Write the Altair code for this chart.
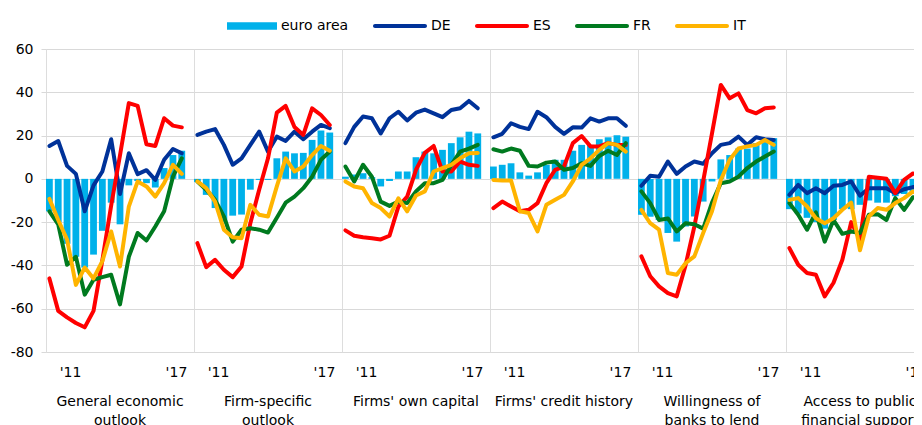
import altair as alt
import pandas as pd

# ---- data -------------------------------------------------------------
SLOTS = list(range(17))            # 16 survey rounds + one empty slot at the end
TICK_VALUES = [2, 14]
TICK_LABELS = ["'11", "'17"]

SERIES = ["euro area", "DE", "ES", "FR", "IT"]
COLORS = ["#00B1EA", "#003299", "#FF0000", "#007A1F", "#FFB400"]

PANELS = ["General economic outlook", "Firm-specific outlook", "Firms' own capital",
          "Firms' credit history", "Willingness of banks to lend",
          "Access to public financial support"]
PANEL_TITLES = [["General economic", "outlook"], ["Firm-specific", "outlook"],
                ["Firms' own capital"], ["Firms' credit history"],
                ["Willingness of", "banks to lend"], ["Access to public", "financial support"]]

euro_area = [
    [-15, -20, -30, -36, -41, -35, -24, -11, -21, -3, -1, -2, -4, 5, 11, 13],
    [-1.5, -7.4, -13.5, -20, -17, -16.5, -5, -0.5, -0.5, 9.5, 12.6, 11.8, 12, 18, 22.3, 21.4],
    [1, 2, 2.6, 0.8, -3.5, -1, 3.4, 3.4, 10, 12.6, 11.8, 13.4, 16.5, 19.2, 21.8, 21],
    [5.7, 6.5, 7.2, 3, 1.5, 3, 6.5, 8.8, 8.8, 13, 15.7, 15.7, 18.3, 19.2, 20.2, 19.5],
    [-16.6, -17.5, -19, -25, -29, -22, -17.4, -10.5, -1.2, 9, 11, 14, 14, 16.5, 17, 18.8],
    [-14, -16, -18, -20, -23, -19, -14, -14, -12, -10, -11, -11, -8, -7, -6, -6],
]
de = [
    [15.2, 17.5, 6, 2.3, -15, -3, 3.4, 18.3, -7, 11.8, 2.2, 4, -0.5, 8.8, 13.8, 11.8],
    [20.3, 21.8, 23, 15.7, 6.5, 9.5, 15.7, 21.8, 12.6, 19.5, 17.5, 21.8, 18.3, 21.8, 24.9, 23.4],
    [16.5, 24, 28.8, 28, 21, 28, 31, 27, 30.6, 32, 30.3, 28.5, 31.8, 32.6, 36, 32.6],
    [19.2, 20.8, 25.7, 24, 23, 31, 28.5, 24, 20.8, 23.8, 23.7, 28, 26.5, 28, 28, 24.5],
    [-3.2, 1.4, 1, 8, 2.3, 5.7, 8, 7, 11.8, 15.7, 16.5, 19.5, 15.7, 19.2, 18.3, 18],
    [-7.4, -2.8, -6.6, -4.3, -6.6, -3.2, -2.8, -1.2, -7.8, -4.3, -4.3, -4.3, -6.6, -4.8, -3.8, -3.2],
]
es = [
    [-46, -61, -64, -66.6, -68.6, -61, -37.6, -12.3, 10.9, 35, 33.7, 16, 15.2, 28, 24.6, 23.8],
    [-29.7, -40.8, -37.4, -42, -45.4, -40.5, -20.5, -5, 9.5, 30.6, 33.7, 24, 20.3, 32.6, 29.5, 24.9],
    [-23.8, -26.3, -27, -27.4, -28, -26.3, -12.8, -8.2, 4.2, 12, 15.2, 3.4, 3.4, 8, 6.5, 6],
    [-13.5, -10.5, -12.8, -15, -14.3, -11.2, -2, 4.2, 5.7, 16.5, 19.8, 15, 15, 16.5, 15.7, 15.7],
    [-35.8, -45, -49.7, -52.8, -54.3, -40, -22, -1, 21, 43.4, 37.2, 39.5, 31.8, 30.3, 32.6, 33],
    [-32, -39.7, -43.5, -44.3, -54.3, -48, -37.4, -20, -28, 1, 0.5, 0, -6.6, -0.5, 2.5, 1.5],
]
fr = [
    [-15, -21, -39.7, -36, -53.5, -46.6, -45.4, -44.3, -58, -36, -25, -28.5, -22, -15, 1, 9.5],
    [-1.2, -5, -9.7, -17.4, -29, -23.5, -22.8, -23.5, -24.8, -18, -11, -8.2, -4.3, 1, 8.8, 12.6],
    [5.7, -1.2, 6.5, 1, -10.5, -12.5, -10.5, -11.2, -5.8, -2, -2, -0.5, 6.5, 12.6, 14, 15.7],
    [13.7, 12.6, 14, 13, 6, 5.7, 7.5, 8, 4.2, 5, 7.2, 6, 10.6, 13, 11, 16.5],
    [-5.8, -11.2, -19, -18.3, -24.3, -20.5, -21, -23, -11, -2, -1.2, 1, 5, 8, 10.3, 12.6],
    [-11.2, -16.6, -23.5, -15.5, -29, -19, -25.4, -24.3, -25, -16.6, -16.3, -19, -8.9, -14.3, -8.5, -8.2],
]
it = [
    [-9.2, -19, -28, -49, -41, -46, -38, -24.3, -40.5, -12.8, -1.2, -3.5, -8.2, -2, 6.5, 2.3],
    [-1.2, -4.3, -10.5, -23.5, -27, -27.4, -12, -16.6, -17.4, -3.5, 9.5, 3.4, 5.7, 11, 15.2, 13],
    [-1.2, -3.5, -4.3, -11.2, -13.5, -17.4, -9, -15, -7.7, -5.8, 3.4, 5, 6.5, 9.5, 11.8, 12],
    [-0.5, -0.8, -0.8, -15, -15.8, -24.3, -12, -9.7, -7.4, -1.2, 6.5, 9.5, 13.4, 16.5, 15.7, 12.6],
    [-14.3, -20.5, -23.5, -43.5, -44.3, -39, -35.8, -25, -15, -0.5, 8.8, 14, 15, 15.7, 18, 15.7],
    [-9.7, -8.9, -12.8, -18.2, -20.5, -18.2, -14.3, -11, -33, -17.4, -13.5, -14.3, -11.2, -8.9, -5.8, -7.8],
]

# ---- tidy table --------------------------------------------------------
rows = []
for p, panel in enumerate(PANELS):
    for name, arr in zip(SERIES, [euro_area, de, es, fr, it]):
        for t, v in enumerate(arr[p]):
            rows.append({"panel": panel, "t": t, "series": name, "value": v})
df = pd.DataFrame(rows)

FONT = "DejaVu Sans"
GRID = "#d9d9d9"
label_expr = " : ".join(
    [f"datum.value == {v} ? \"{l}\"" for v, l in zip(TICK_VALUES, TICK_LABELS)] + ["\"\""]
)

# legend swatches: a flat block for the bars, a round-ended line for the countries
BAR_SWATCH = "M-5,-0.77H5V0.77H-5Z"
LINE_SWATCH = "M-5.4,-0.4H4.6A0.4,0.4 0 0 1 4.6,0.4H-5.4A0.4,0.4 0 0 1 -5.4,-0.4Z"
shape_expr = f"datum.value === '{SERIES[0]}' ? '{BAR_SWATCH}' : '{LINE_SWATCH}'"
fill_expr = " : ".join(
    [f"datum.value === '{s}' ? '{c}'" for s, c in zip(SERIES, COLORS)] + ["'black'"]
)

color = alt.Color(
    "series:N",
    scale=alt.Scale(domain=SERIES, range=COLORS),
    legend=alt.Legend(
        orient="none", legendX=199, legendY=-30, direction="horizontal", columns=5,
        title=None, symbolType={"expr": shape_expr}, symbolSize=100,
        symbolFillColor={"expr": fill_expr}, symbolStrokeWidth=0, symbolOpacity=1,
        labelFontSize=14, labelFont=FONT, labelColor="black", labelOffset=22,
        columnPadding=24,
    ),
)


def panel_chart(i):
    d = df[df.panel == PANELS[i]]
    x = alt.X(
        "t:O",
        scale=alt.Scale(domain=SLOTS, paddingInner=0.23, paddingOuter=0),
        axis=alt.Axis(values=TICK_VALUES, labelExpr=label_expr, ticks=False, domain=False,
                      grid=False, labelAngle=0, labelFontSize=14, labelFont=FONT,
                      labelColor="black", labelPadding=13, labelOffset=3.5),
        title=None,
    )
    if i == 0:
        yaxis = alt.Axis(values=list(range(-80, 61, 20)), grid=True, gridColor=GRID,
                         tickColor=GRID, tickSize=5, domain=False, labelFontSize=14,
                         labelFont=FONT, labelColor="black", labelPadding=8,
                         labelExpr="'' + datum.value")
    else:
        yaxis = alt.Axis(values=list(range(-80, 61, 20)), grid=True, gridColor=GRID,
                         ticks=False, labels=False, domain=False)
    y = alt.Y("value:Q", scale=alt.Scale(domain=[-80, 60], nice=False), axis=yaxis, title=None)
    bars = alt.Chart(d[d.series == "euro area"]).mark_bar().encode(x=x, y=y, color=color)
    lines = alt.Chart(d[d.series != "euro area"]).mark_line(
        strokeWidth=4, strokeCap="round", strokeJoin="round"
    ).encode(x=x, y=y, color=color)
    return alt.layer(bars, lines).properties(
        width=148, height=303,
        title=alt.TitleParams(text=PANEL_TITLES[i], orient="bottom", fontSize=14,
                              fontWeight="normal", font=FONT, color="black",
                              lineHeight=19, offset=16),
    )


chart = alt.hconcat(
    *[panel_chart(i) for i in range(6)], spacing=0, bounds="flush"
).resolve_scale(color="shared").resolve_legend(color="shared").properties(
    padding={"left": 1, "top": 11, "right": -21, "bottom": 0}
).configure_view(stroke=GRID).configure(font=FONT)

chart.save("out.html", embed_options={"renderer": "svg", "actions": False})
